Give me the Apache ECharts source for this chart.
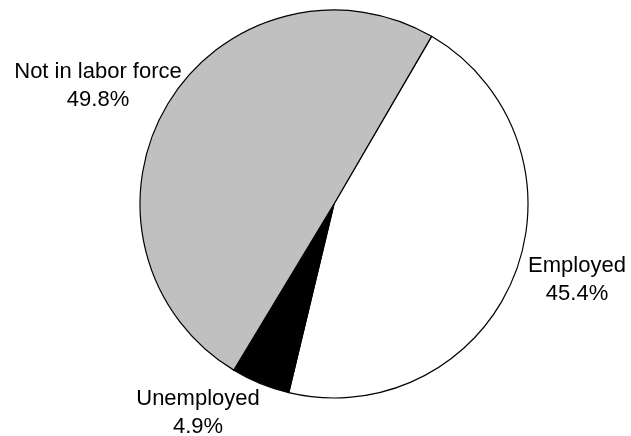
<!DOCTYPE html>
<html>
<head>
<meta charset="utf-8">
<script src="https://cdn.jsdelivr.net/npm/echarts@6/dist/echarts.min.js"></script>
<style>html,body{margin:0;padding:0;background:#fff}#c{width:631px;height:436px}</style>
</head>
<body>
<div id="c"></div>
<script>
const categories = ["Employed", "Unemployed", "Not in labor force"];
const values = [45.4, 4.9, 49.8];
const colors = ["#ffffff", "#000000", "#c0c0c0"];
const labelPos = [[577, 280], [198, 413], [98, 86]];

const chart = echarts.init(document.getElementById('c'), null, {renderer: 'canvas'});
chart.setOption({
  backgroundColor: '#ffffff',
  animation: false,
  series: [{
    type: 'pie',
    center: [334, 204],
    radius: [0, 194],
    startAngle: 59.8,
    clockwise: true,
    data: categories.map((c, i) => ({name: c, value: values[i], itemStyle: {color: colors[i]}})),
    itemStyle: {borderColor: '#000', borderWidth: 1.2},
    label: {
      show: true,
      position: 'outside',
      formatter: p => p.name + '\n' + p.value.toFixed(1) + '%',
      fontFamily: 'Liberation Sans, Arial, sans-serif',
      fontSize: 22,
      lineHeight: 28,
      color: '#000',
      align: 'center',
      overflow: 'none',
      width: 300
    },
    labelLine: {show: false},
    labelLayout: p => ({x: labelPos[p.dataIndex][0], y: labelPos[p.dataIndex][1], align: 'center', verticalAlign: 'middle'}),
    emphasis: {disabled: true}
  }]
});
</script>
</body>
</html>
